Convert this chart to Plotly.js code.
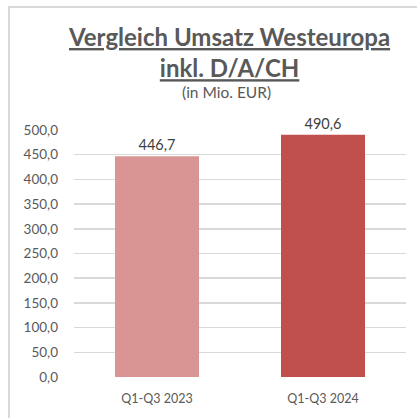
<!DOCTYPE html>
<html>
<head>
<meta charset="utf-8">
<script src="https://cdn.plot.ly/plotly-3.0.1.min.js"></script>
<style>
html,body{margin:0;padding:0;background:#fff;}
#wrap{position:relative;width:417px;height:418px;overflow:hidden;}
#chart{position:absolute;left:0;top:0;width:417px;height:418px;}
#frame{position:absolute;left:8px;top:6px;width:420px;height:420px;border-left:2px solid #D9D9D9;border-top:2px solid #D9D9D9;pointer-events:none;}
</style>
</head>
<body>
<div id="wrap"><div id="chart"></div><div id="frame"></div></div>
<script>
const categories = ['Q1-Q3 2023', 'Q1-Q3 2024'];
const revenue = [446.7, 490.6];
const barColors = ['#D99594', '#C0504D'];
const tickValues = [0, 50, 100, 150, 200, 250, 300, 350, 400, 450, 500];

const fontFam = 'Lato, "Open Sans", sans-serif';
const trace = {
  type: 'bar',
  x: categories,
  y: revenue,
  marker: {color: barColors},
  width: 0.506,
  text: revenue,
  texttemplate: '%{y:.1f}',
  textposition: 'outside',
  cliponaxis: false,
  textfont: {family: fontFam, size: 14.5, color: '#404040'},
  hoverinfo: 'none'
};
const layout = {
  width: 417, height: 418,
  margin: {l: 74, r: 11, t: 130, b: 41},
  paper_bgcolor: '#fff', plot_bgcolor: '#fff',
  separators: ',.',
  showlegend: false,
  font: {family: fontFam, size: 13, color: '#595959'},
  xaxis: {
    type: 'category',
    showgrid: false, zeroline: false, showline: false,
    ticks: '', ticklabelstandoff: 12,
    tickfont: {family: fontFam, size: 12.5, color: '#595959'}
  },
  yaxis: {
    range: [0, 500],
    tickvals: tickValues,
    tickformat: '.1f',
    showgrid: true, gridcolor: '#D9D9D9', gridwidth: 1.5,
    zeroline: false, showline: false, ticks: '',
    ticklabelstandoff: 15,
    tickfont: {family: fontFam, size: 13.5, color: '#595959'}
  },
  annotations: [
    {text: '<b><u>Vergleich Umsatz Westeuropa</u></b><br><b><u>inkl. D/A/CH</u></b>', showarrow: false, font: {family: fontFam, size: 24, color: '#595959'}},
    {text: '(in Mio. EUR)', showarrow: false, font: {family: fontFam, size: 15.5, color: '#595959'}}
  ]
};
const plotW = 417 - 74 - 11, plotH = 418 - 130 - 41;
function px(xp){ return (xp - 74) / plotW; }
function py(yp){ return (418 - 41 - yp) / plotH; }
const titlePos = [[229, 52], [226, 92]];
layout.annotations.forEach((a, i) => {
  a.xref = 'paper'; a.yref = 'paper';
  a.x = px(titlePos[i][0]); a.y = py(titlePos[i][1]);
  a.xanchor = 'center'; a.yanchor = 'middle';
});
Plotly.newPlot('chart', [trace], layout, {displayModeBar: false, staticPlot: true});
</script>
</body>
</html>
